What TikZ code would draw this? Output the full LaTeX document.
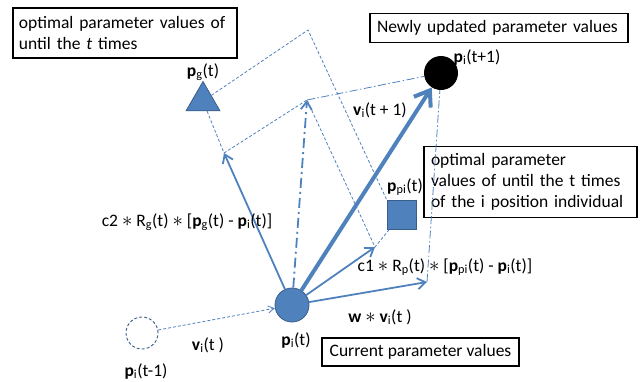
\documentclass[tikz,border=0pt]{standalone}
\usepackage{fontspec}
\setmainfont{Carlito}
\usetikzlibrary{arrows.meta,positioning,shapes.geometric}
\definecolor{pso}{HTML}{4F81BD}
\definecolor{psodark}{HTML}{385D8A}
\newcommand{\vb}[2]{\textbf{#1}\textsubscript{#2}}
\newcommand{\mul}{\raisebox{-0.1ex}{\fontsize{22}{22}\selectfont$\ast$}}
\tikzset{
  flow/.style={-{Straight Barb[length=8pt,width=11pt]},line width=1.8pt,pso},
  bigflow/.style={-{Straight Barb[length=14pt,width=20pt]},line width=4pt,pso},
  sumflow/.style={flow,dash pattern=on 10pt off 4pt on 2pt off 4pt},
  guide/.style={pso,line width=0.8pt,dash pattern=on 3pt off 2pt},
  guidedot/.style={pso,line width=0.8pt,dash pattern=on 8pt off 2.5pt on 1.5pt off 2.5pt},
  point/.style={circle,minimum size=34pt,inner sep=0pt},
  box/.style={draw=black,line width=1.4pt,align=left,inner sep=6pt},
  lbl/.style={inner sep=0pt}
}

\begin{document}
\begin{tikzpicture}[x=1pt,y=-1pt,font=\fontsize{17.5}{21}\selectfont]
\useasboundingbox (0,0) rectangle (640,381);
% text boxes
\node[box,text width=212pt,minimum height=50pt] (optbox) at (125,33) {optimal parameter values of\\until the \textit{t} times};
\node[box,inner sep=7pt,text width=244pt,minimum height=28pt] (newbox) at (499,28) {Newly updated parameter values};
\node[box,inner sep=7pt,text width=199pt,minimum height=70pt] (pbestbox) at (530.5,182) {optimal parameter\\values of until the t times\\of the i position individual};
\node[box,minimum width=197pt,minimum height=28pt] (curbox) at (420.5,352) {Current parameter values};
% positions
\node[point,draw=psodark,fill=pso,line width=0.8pt] (pit) at (292,305) {};
\node[point,minimum size=32pt,draw=psodark,line width=0.9pt,dash pattern=on 3pt off 2pt] (pitm) at (142,333) {};
\node[point,fill=black] (pnext) at (441,73) {};
\node[regular polygon,regular polygon sides=3,minimum size=39pt,inner sep=0pt,fill=pso,draw=psodark,line width=0.8pt] (pg) at (203,101) {};
\node[draw=psodark,fill=pso,line width=0.8pt,minimum size=29pt,inner sep=0pt] (ppi) at (401.5,214.5) {};
% vector ends
\coordinate (cg) at (224,153);
\coordinate (csum) at (307,100);
\coordinate (cp) at (375,247);
\coordinate (cw) at (427,282);
\coordinate (apex) at (308,30);
% construction lines
\draw[guide] (pg) -- (cg) -- (csum) -- (cp) -- (ppi);
\draw[guide] (pg) -- (apex) -- (ppi.north west);
\draw[guidedot] (csum) -- (pnext);
\draw[guidedot] (cw) -- (pnext);
\draw[guide,-{Straight Barb[length=6pt,width=7pt]}] (pitm) -- (pit);
% velocity parts
\draw[flow] (pit) -- (cg);
\draw[sumflow] (pit) -- (csum);
\draw[flow] (pit) -- (cp);
\draw[flow] (pit) -- (cw);
\draw[bigflow] (pit) -- (pnext);
% labels
\node[lbl] (pglbl) at (203,72) {\vb{p}{g}(t)};
\node[lbl] (pnextlbl) at (477,57) {\vb{p}{i}(t+1)};
\node[lbl] (vnextlbl) at (380,110) {\vb{v}{i}(t + 1)};
\node[lbl] (ppilbl) at (405,187) {\vb{p}{pi}(t)};
\node[lbl] (c2lbl) at (187,222) {c2 \mul{} R\textsubscript{g}(t) \mul{} [\vb{p}{g}(t) - \vb{p}{i}(t)]};
\node[lbl] (c1lbl) at (445,267) {c1 \mul{} R\textsubscript{p}(t) \mul{} [\vb{p}{pi}(t) - \vb{p}{i}(t)]};
\node[lbl] (wlbl) at (380,317) {\textbf{w} \mul{} \vb{v}{i}(t )};
\node[lbl] (vlbl) at (208,345) {\vb{v}{i}(t )};
\node[lbl] (pitlbl) at (296,340) {\vb{p}{i}(t)};
\node[lbl] (pitmlbl) at (146,371) {\vb{p}{i}(t-1)};
\end{tikzpicture}
\end{document}
